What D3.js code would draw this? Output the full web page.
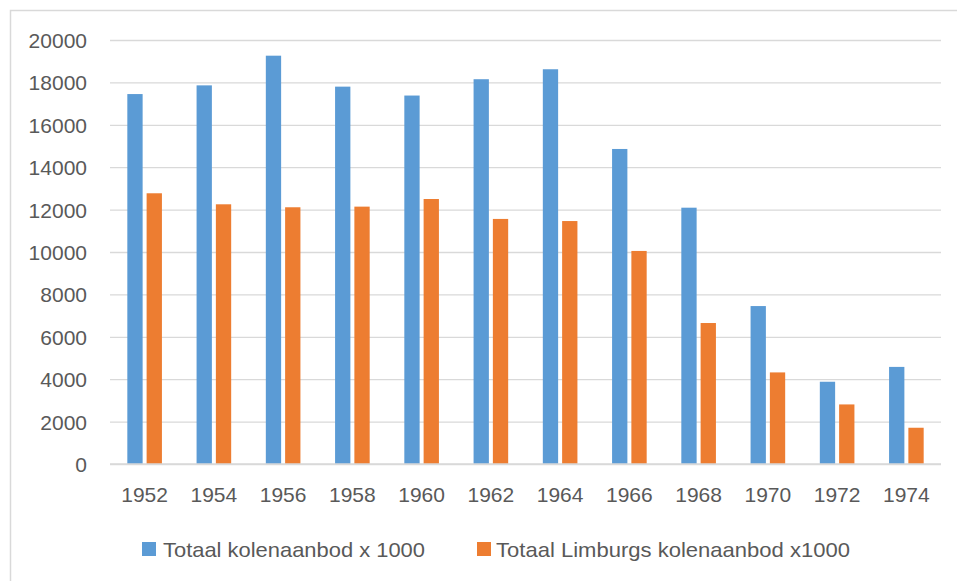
<!DOCTYPE html>
<html>
<head>
<meta charset="utf-8">
<script src="https://cdn.jsdelivr.net/npm/d3@7"></script>
<style>
  html, body { margin: 0; padding: 0; background: #fff; }
  svg { display: block; }
</style>
</head>
<body>
<svg id="chart" width="957" height="581"></svg>
<script>
const years = ["1952","1954","1956","1958","1960","1962","1964","1966","1968","1970","1972","1974"];
const totaal = [17450, 17860, 19260, 17800, 17380, 18150, 18620, 14860, 12090, 7450, 3880, 4580];
const limburgs = [12770, 12250, 12110, 12140, 12500, 11560, 11460, 10050, 6650, 4320, 2810, 1710];
const seriesNames = ["Totaal kolenaanbod x 1000", "Totaal Limburgs kolenaanbod x1000"];
const yTicks = [0, 2000, 4000, 6000, 8000, 10000, 12000, 14000, 16000, 18000, 20000];

const colors = ["#5B9BD5", "#ED7D31"];
const textColor = "#595959";
const gridColor = "#D9D9D9";

const svg = d3.select("#chart");

// outer chart border
svg.append("rect")
  .attr("x", 10.5).attr("y", 10.5)
  .attr("width", 960).attr("height", 600)
  .attr("fill", "none").attr("stroke", gridColor).attr("stroke-width", 1.5);

const plotLeft = 110, plotRight = 941, plotTop = 40, plotBottom = 464;

const x0 = d3.scaleBand().domain(years).range([plotLeft, plotRight]).padding(0);
const keys = [0, 1];
const x1 = d3.scaleBand().domain(keys).range([-17.3, 17.3]).paddingInner(0.207).paddingOuter(0);
const y = d3.scaleLinear().domain([0, 20000]).range([plotBottom, plotTop]);

// gridlines
const yAxis = d3.axisLeft(y).tickValues(yTicks).tickSize(-(plotRight - plotLeft)).tickFormat(d => d);
const gy = svg.append("g").attr("transform", `translate(${plotLeft},0)`).call(yAxis);
gy.select(".domain").remove();
gy.selectAll(".tick line").attr("stroke", gridColor).attr("stroke-width", 1.3);
gy.selectAll(".tick text")
  .attr("x", -23)
  .attr("dy", "0.36em")
  .attr("fill", textColor)
  .style("font-family", "'Liberation Sans', Arial, sans-serif")
  .style("font-size", "21px");

// bars
const data = years.map((yr, i) => ({ year: yr, values: [totaal[i], limburgs[i]] }));
const groups = svg.append("g").selectAll("g").data(data).join("g")
  .attr("transform", d => `translate(${x0(d.year) + x0.bandwidth() / 2},0)`);
groups.selectAll("rect").data(d => d.values.map((v, k) => ({ k, v }))).join("rect")
  .attr("x", d => x1(d.k))
  .attr("width", x1.bandwidth())
  .attr("y", d => y(d.v))
  .attr("height", d => y(0) - y(d.v))
  .attr("fill", d => colors[d.k]);

// x axis baseline
svg.append("line")
  .attr("x1", plotLeft).attr("x2", plotRight)
  .attr("y1", y(0)).attr("y2", y(0))
  .attr("stroke", gridColor).attr("stroke-width", 1.5);

// x axis labels
const xAxis = d3.axisBottom(x0).tickSize(0).tickPadding(0);
const gx = svg.append("g").attr("transform", `translate(0,${plotBottom})`).call(xAxis);
gx.select(".domain").remove();
gx.selectAll(".tick text")
  .attr("y", 38)
  .attr("dy", 0)
  .attr("fill", textColor)
  .style("font-family", "'Liberation Sans', Arial, sans-serif")
  .style("font-size", "21px");

// legend
const legendItems = [
  { name: seriesNames[0], sx: 142, tx: 163, w: 262 },
  { name: seriesNames[1], sx: 477, tx: 496, w: 354 }
];
const lg = svg.append("g");
legendItems.forEach((it, i) => {
  lg.append("rect").attr("x", it.sx).attr("y", 542).attr("width", 14).attr("height", 14).attr("fill", colors[i]);
  lg.append("text").attr("x", it.tx).attr("y", 557)
    .attr("fill", textColor)
    .attr("textLength", it.w).attr("lengthAdjust", "spacingAndGlyphs")
    .style("font-family", "'Liberation Sans', Arial, sans-serif")
    .style("font-size", "21px")
    .text(it.name);
});
</script>
</body>
</html>
